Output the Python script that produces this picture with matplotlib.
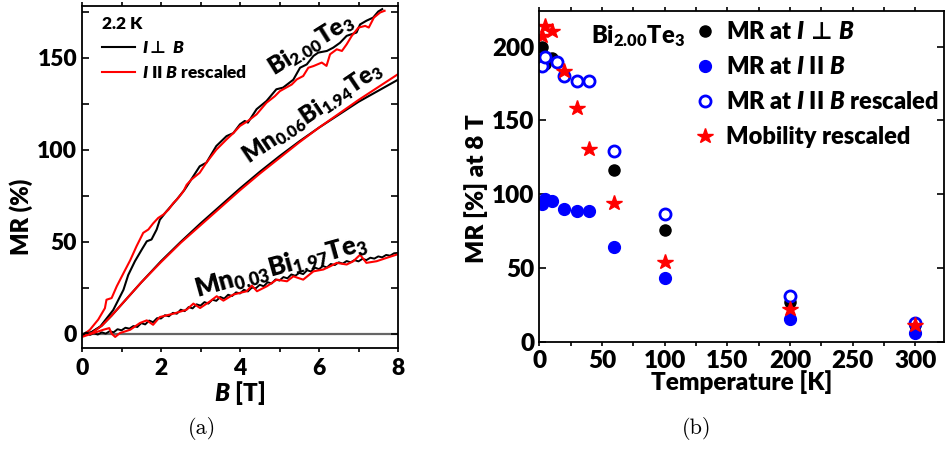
import matplotlib
matplotlib.use("Agg")
import matplotlib.pyplot as plt
from matplotlib.ticker import MultipleLocator

plt.rcParams['font.family'] = ['Lato', 'DejaVu Sans']
plt.rcParams['font.weight'] = 'heavy'
plt.rcParams['axes.labelweight'] = 'heavy'
plt.rcParams['mathtext.fontset'] = 'custom'
plt.rcParams['mathtext.rm'] = 'Lato:heavy'
plt.rcParams['mathtext.it'] = 'Lato:heavy:italic'
plt.rcParams['mathtext.bf'] = 'Lato:heavy'
plt.rcParams['mathtext.sf'] = 'DejaVu Sans:bold'
plt.rcParams['axes.linewidth'] = 1.3

# ---- panel (a): MR vs field at 2.2 K ----
bi_perp_B = [0, 0.2, 0.46, 0.79, 1.05, 1.17, 1.34, 1.51, 1.64, 1.76, 1.89, 1.97, 2.14, 2.4, 2.6,
             2.8, 2.98, 3.15, 3.4, 3.66, 3.83, 4.0, 4.12, 4.2, 4.42, 4.67, 4.92, 5.09, 5.35, 5.52,
             5.69, 5.86, 5.98, 6.2, 6.36, 6.53, 6.7, 6.95, 7.04, 7.2, 7.37, 7.5, 7.6]
bi_perp_MR = [-1, 0.5, 4, 13, 24, 32, 39.5, 45.7, 50.3, 51.3, 56.7, 62, 66.6, 73, 78.4,
              85, 91, 93, 102, 107.4, 109, 113.8, 115.6, 114.7, 122, 126.4, 132.8, 133.7, 138, 144.5,
              146.3, 150.9, 152.7, 153.6, 155.4, 158, 161.8, 163.6, 168, 170, 171.7, 175, 176.3]

bi_par_B = [0, 0.2, 0.41, 0.58, 0.62, 0.75, 0.88, 1.05, 1.22, 1.38, 1.55, 1.68, 1.8, 1.93, 2.06,
            2.19, 2.31, 2.44, 2.57, 2.65, 2.78, 2.98, 3.15, 3.4, 3.66, 3.83, 4.0, 4.2, 4.42, 4.67,
            4.88, 5.01, 5.31, 5.44, 5.6, 5.73, 5.86, 6.07, 6.19, 6.28, 6.45, 6.58, 6.7, 6.83, 7.0,
            7.17, 7.26, 7.39, 7.55, 7.66]
bi_par_MR = [-1, 2.3, 7.8, 14, 18.6, 19.5, 25.9, 33, 40, 47.6, 54.9, 56.7, 60, 63, 64.8,
             67.5, 71, 73.9, 77.5, 81, 84, 87.5, 93, 100, 105.6, 109, 112.9, 115.6, 119.2, 125.5,
             129, 131.8, 135.4, 138.2, 140, 144.5, 145.4, 147.3, 145.5, 151.8, 154.5, 153.6, 157.2, 161.8, 166.3,
             167.2, 166.3, 171.7, 174.5, 175.4]

mn06_B = [0, 0.25, 0.5, 0.75, 1, 1.5, 2, 2.5, 3, 3.5, 4, 4.5, 5, 5.5, 6, 6.5, 7, 7.5, 8]
mn06_perp_MR = [0, 1, 4.5, 10, 16, 28, 39.5, 50, 60, 69.5, 79, 88, 96.5, 104.5, 112, 119, 126, 132, 138]
mn06_par_MR = [-0.5, 0.5, 4.5, 10, 16, 28, 39, 49.5, 59, 68.5, 78, 87, 95.5, 104, 112, 119.5, 127, 134, 141]

mn03_perp_B = [i / 10 for i in range(81)]
mn03_perp_MR = [-1.0, 0.8, -0.5, 0.4, -0.3, 0.9, 0.2, 1.5, 0.9, 2.6,
                2.0, 3.4, 2.9, 4.3, 3.8, 5.9, 5.2, 7.3, 6.4, 8.6,
                8.4, 10.2, 9.6, 11.5, 11.0, 13.2, 12.4, 14.6, 13.9, 16.1,
                15.4, 17.3, 16.5, 18.6, 18.0, 20.1, 19.2, 21.3, 20.6, 22.6,
                22.0, 24.0, 23.1, 25.2, 24.8, 26.7, 25.9, 28.1, 27.4, 29.6,
                29.0, 30.9, 30.2, 32.3, 31.6, 33.2, 32.5, 34.6, 33.9, 36.0,
                35.2, 36.9, 36.1, 38.0, 37.4, 38.9, 38.2, 39.6, 38.9, 40.1,
                39.4, 40.8, 40.1, 41.4, 40.9, 42.1, 41.6, 42.9, 42.5, 43.8, 44.0]

mn03_par_B = [0, 0.29, 0.54, 0.69, 0.75, 0.84, 0.96, 1.22, 1.47, 1.64, 1.8, 1.97, 2.31, 2.65, 2.82,
              2.99, 3.24, 3.41, 3.58, 3.83, 4.17, 4.3, 4.43, 4.68, 4.93, 5.19, 5.35, 5.6, 5.86, 6.11,
              6.28, 6.45, 6.7, 6.87, 7.04, 7.2, 7.46, 7.71, 8.0]
mn03_par_MR = [-1.6, 0.5, 2.3, 3.2, 0.2, -1.6, 0.5, 2.3, 6, 7.4, 5, 9.2, 11, 13.2, 16.5,
               14.1, 17.7, 20.5, 18.1, 21.4, 23.2, 26.3, 23.2, 25.9, 29.5, 28.6, 31.3, 29.5, 34, 35,
               36.7, 38.6, 37.7, 39.5, 43, 38.6, 39.5, 41.3, 43.3]

# ---- panel (b): MR at 8 T vs temperature ----
T_main = [2, 5, 10, 20, 30, 40, 60, 100, 200, 300]
mr_perp = [200, 188, 192, 180, 177, 177, 116.5, 76, 27, 11]
mr_par = [93.3, 96.5, 95.6, 89.7, 88.4, 88.4, 64.4, 43, 15.4, 5.6]
T_resc = [2, 5, 14, 20, 30, 40, 60, 100, 200, 300]
mr_par_resc = [187, 193, 189.4, 180, 177, 177, 129, 86.3, 31.2, 12.4]
mob_resc = [207, 214, 210.6, 183.7, 158.2, 130.8, 93.8, 53.8, 22.1, 11.3]

fig = plt.figure(figsize=(9.46, 4.5), dpi=100)
ax1 = fig.add_axes([82 / 946, 102 / 450, 316 / 946, 342 / 450])
ax2 = fig.add_axes([538.7 / 946, 108.3 / 450, 405.5 / 946, 331 / 450])

# panel (a)
ax1.axhline(0, color='#666666', lw=1.6, zorder=1)
ax1.plot(bi_perp_B, bi_perp_MR, color='black', lw=1.5, label=r'$I\mathsf{\bot}$ $B$')
ax1.plot(bi_par_B, bi_par_MR, color='red', lw=1.5, label=r'$I$ II $B$ rescaled')
ax1.plot(mn06_B, mn06_perp_MR, color='black', lw=1.5)
ax1.plot(mn06_B, mn06_par_MR, color='red', lw=1.5)
ax1.plot(mn03_perp_B, mn03_perp_MR, color='black', lw=1.4)
ax1.plot(mn03_par_B, mn03_par_MR, color='red', lw=1.5)

ax1.set_xlim(0, 8)
ax1.set_ylim(-7.6, 178)
ax1.xaxis.set_major_locator(MultipleLocator(2))
ax1.xaxis.set_minor_locator(MultipleLocator(1))
ax1.yaxis.set_major_locator(MultipleLocator(50))
ax1.yaxis.set_minor_locator(MultipleLocator(25))
ax1.tick_params(which='both', labelsize=16.5, width=1.2)
ax1.tick_params(axis='x', which='both', direction='out', length=3, pad=4)
ax1.tick_params(axis='y', which='both', direction='in', length=5, right=True)
ax1.tick_params(axis='x', which='both', top=True)
ax1.set_xlabel(r'$B$ [T]', fontsize=17.5, labelpad=0)
ax1.set_ylabel('MR (%)', fontsize=17)
ax1.yaxis.set_label_coords(-0.155, 0.383)

leg1 = ax1.legend(loc='upper left', bbox_to_anchor=(0.033, 1.0), frameon=False, fontsize=12.5,
                  title='2.2 K', title_fontsize=12.5, alignment='left', handlelength=1.9,
                  handletextpad=0.4, labelspacing=0.45, borderaxespad=0.15)

ax1.text(5.8, 157, r'Bi$_{2.00}$Te$_3$', fontsize=17.5, rotation=32, ha='center', va='center')
ax1.text(5.85, 120, r'Mn$_{0.06}$Bi$_{1.94}$Te$_3$', fontsize=17, rotation=34, ha='center', va='center')
ax1.text(5.05, 36.5, r'Mn$_{0.03}$Bi$_{1.97}$Te$_3$', fontsize=18.5, rotation=15.5, ha='center', va='center')

# panel (b)
ax2.plot(T_main, mr_perp, 'o', color='black', ms=8, label=r'MR at $I\,\mathsf{\bot}\,B$')
ax2.plot(T_main, mr_par, 'o', color='blue', ms=8.5, label=r'MR at $I$ II $B$')
ax2.plot(T_resc, mr_par_resc, 'o', mfc='white', mec='blue', mew=2, ms=8, label=r'MR at $I$ II $B$ rescaled')
ax2.plot(T_main, mob_resc, '*', color='red', ms=11.5, label='Mobility rescaled')

ax2.set_xlim(-0.4, 323)
ax2.set_ylim(0, 224.4)
ax2.xaxis.set_major_locator(MultipleLocator(50))
ax2.xaxis.set_minor_locator(MultipleLocator(25))
ax2.yaxis.set_major_locator(MultipleLocator(50))
ax2.tick_params(which='both', labelsize=17.5, width=1.2)
ax2.tick_params(axis='x', which='both', direction='out', length=3, top=True, pad=3)
ax2.tick_params(axis='y', which='both', direction='in', length=5, right=True, pad=3)
ax2.set_xlabel('Temperature [K]', fontsize=17.5, labelpad=-1)
ax2.set_ylabel('MR [%] at 8 T', fontsize=17.5)
ax2.yaxis.set_label_coords(-0.125, 0.461)

ax2.legend(loc='upper left', bbox_to_anchor=(0.366, 1.0), frameon=False, fontsize=17,
           handlelength=0.6, handletextpad=0.6, labelspacing=0.55, borderaxespad=0.05)
ax2.text(0.128, 0.924, r'Bi$_{2.00}$Te$_3$', transform=ax2.transAxes, fontsize=17,
         ha='left', va='center')

fig.text(202 / 946, 1 - 428 / 450, '(a)', family='cmr10', fontsize=16, ha='center', va='center', weight='normal')
fig.text(697 / 946, 1 - 428 / 450, '(b)', family='cmr10', fontsize=16, ha='center', va='center', weight='normal')

fig.savefig('out.png', dpi=100)
